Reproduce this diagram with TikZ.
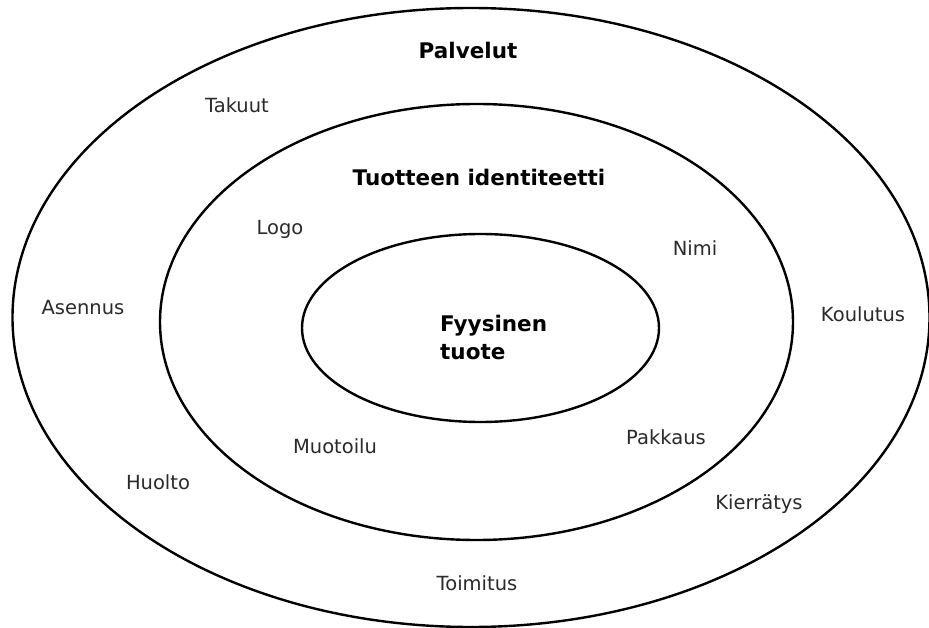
\documentclass[tikz,border=0pt]{standalone}
\usepackage{fontspec}
\setmainfont{DejaVu Sans}
\usetikzlibrary{shapes.geometric}
\definecolor{labelgray}{HTML}{2A2A2A}
\tikzset{
  ring/.style={draw=black, line width=2.4pt, ellipse, inner sep=0pt, fill=none},
  lbl/.style={font=\fontsize{19.5}{23}\selectfont, text=labelgray, inner sep=0pt},
  ttl/.style={font=\fontsize{21.5}{28}\selectfont\bfseries, text=black, inner sep=0pt},
}
\begin{document}
\begin{tikzpicture}[x=1pt, y=-1pt]
\useasboundingbox (0,0) rectangle (929,628);
\fill[white] (0,0) rectangle (929,628);
% rings
\node[ring, minimum width=917pt, minimum height=619pt] (outer) at (471,317.5) {};
\node[ring, minimum width=633pt, minimum height=436pt] (middle) at (476.5,322) {};
\node[ring, minimum width=357pt, minimum height=188pt] (inner) at (480.5,328) {};
% titles
\node[ttl] (palvelut) at (468,50) {Palvelut};
\node[ttl] (identiteetti) at (479,177) {Tuotteen identiteetti};
\node[ttl, align=left, anchor=west] (fyysinen) at (440,337) {Fyysinen\\tuote};
% labels
\node[lbl] (takuut) at (237,105) {Takuut};
\node[lbl] (logo) at (280,229) {Logo};
\node[lbl] (nimi) at (695,248) {Nimi};
\node[lbl] (asennus) at (83,308) {Asennus};
\node[lbl] (koulutus) at (863,314) {Koulutus};
\node[lbl] (muotoilu) at (335,446) {Muotoilu};
\node[lbl] (pakkaus) at (666,437) {Pakkaus};
\node[lbl] (huolto) at (158,482) {Huolto};
\node[lbl] (kierratys) at (759,504) {Kierrätys};
\node[lbl] (toimitus) at (477,583) {Toimitus};
\end{tikzpicture}
\end{document}
